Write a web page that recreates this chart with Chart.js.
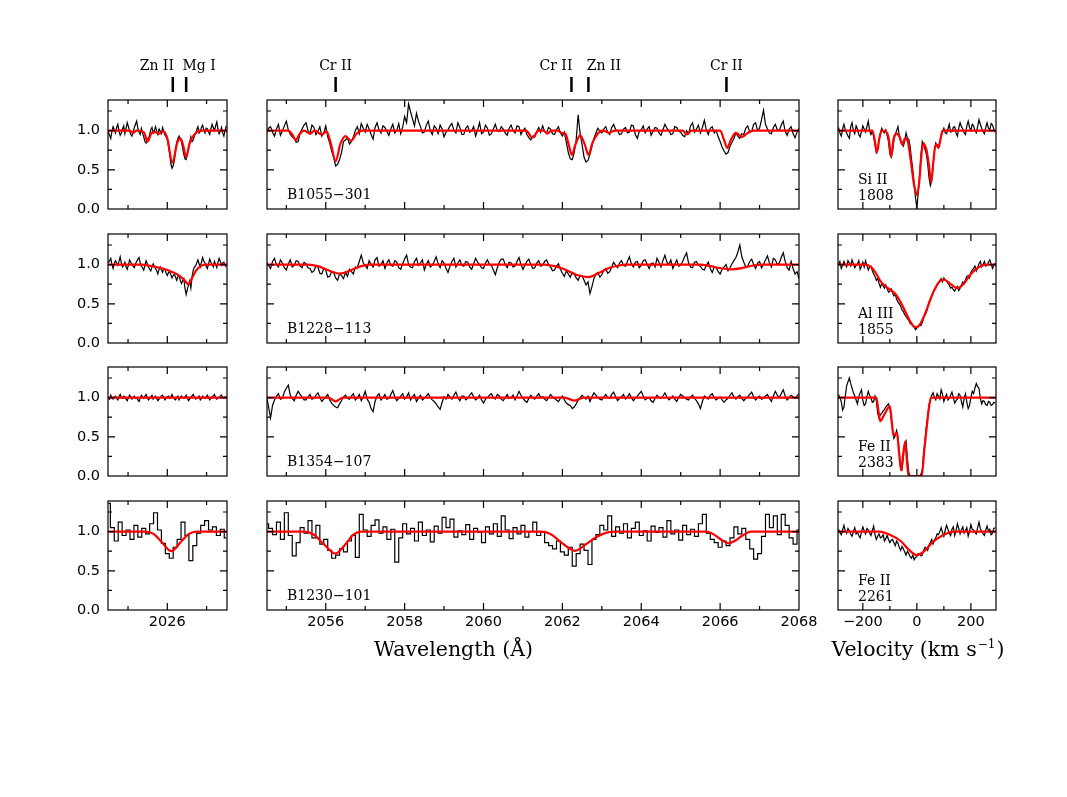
<!DOCTYPE html>
<html>
<head>
<meta charset="utf-8">
<script src="https://cdn.jsdelivr.net/npm/chart.js@4.4.1/dist/chart.umd.min.js"></script>
<style>
html,body{margin:0;background:#fff;}
#fig{position:relative;width:1067px;height:797px;overflow:hidden;background:#fff;}
#fig canvas{position:absolute;}
</style>
</head>
<body>
<div id="fig"></div>
<script>
// sampling of the observed spectra (start + step per pixel bin)
const leftStart = 2024.5, leftStep = [0.03, 0.03, 0.03, 0.1];
const midStart = 2054.5, midStep = [0.05, 0.05, 0.05, 0.1];
const velStart = -290, velStep = 5;

// tick values
const waveMajor = [[2026], [2056, 2058, 2060, 2062, 2064, 2066, 2068], [-200, 0, 200]];
const waveMinor = [[2025, 2027], [2055, 2057, 2059, 2061, 2063, 2065, 2067], [-100, 100]];
const fluxMajor = [0, 0.5, 1.0];
const fluxMinor = [0.25, 0.75, 1.25];

// labels
const qsoNames = ['B1055\u2212301', 'B1228\u2212113', 'B1354\u2212107', 'B1230\u2212101'];
const ionNames = ['Si II', 'Al III', 'Fe II', 'Fe II'];
const ionWaves = ['1808', '1855', '2383', '2261'];
const lineWaves = [[2026.14, 2026.48], [2056.25, 2062.23, 2062.66, 2066.16]];
const lineNames = [['Zn II', 'Mg I'], ['Cr II', 'Cr II', 'Zn II', 'Cr II']];
const labelShift = [[-16, 13], [0, -15.5, 15.5, 0]];

// ---- B1055-301 ----
const b1055Left = [0.98,0.94,0.90,0.99,1.05,1.01,0.97,1.04,1.08,1.00,0.94,0.97,1.02,1.06,0.96,1.03,1.10,1.05,0.99,0.95,
  0.93,0.98,1.04,1.08,1.12,1.03,0.98,0.95,1.03,0.97,0.92,0.86,0.84,0.90,0.88,0.95,1.01,1.04,0.97,1.00,
  1.05,0.99,0.95,1.02,0.99,0.96,1.04,0.99,0.94,0.92,0.90,0.80,0.70,0.58,0.52,0.55,0.62,0.74,0.85,0.90,
  0.93,0.89,0.86,0.78,0.70,0.64,0.63,0.70,0.78,0.85,0.92,0.86,0.88,0.93,0.96,1.01,1.05,0.97,0.99,1.04,
  1.07,1.01,0.97,1.03,1.02,0.98,0.95,1.02,1.08,1.04,1.00,1.06,1.11,1.02,0.96,0.99,1.04,0.97,0.93,1.00,1.06];
const b1055LeftFit = [[2024.5,1],[2025.05,1],[2025.13,0.97],[2025.21,1],[2025.4,0.98],[2025.5,0.86],[2025.6,0.97],
  [2025.7,0.98],[2025.8,0.96],[2025.9,0.99],[2026.0,0.9],[2026.13,0.59],[2026.25,0.84],[2026.33,0.9],[2026.4,0.82],
  [2026.48,0.66],[2026.57,0.84],[2026.66,0.93],[2026.84,1],[2027.52,1]];
const b1055Mid = [0.97,1.03,1.05,0.98,0.93,1.02,1.08,0.94,0.99,1.06,1.12,1.01,0.95,0.92,0.90,0.85,0.86,0.97,1.02,1.07,
  1.10,1.00,0.96,1.07,1.04,0.95,0.99,1.05,0.93,0.97,1.06,0.92,0.84,0.74,0.66,0.55,0.57,0.63,0.72,0.86,
  0.88,0.91,0.83,0.86,0.92,1.00,1.05,0.96,1.09,1.03,0.98,1.08,1.02,0.95,0.89,1.04,1.10,1.01,0.97,1.06,
  1.04,0.99,0.94,1.02,1.08,0.97,1.00,1.09,0.96,1.04,1.18,1.10,1.34,1.24,1.15,1.06,1.22,1.12,1.05,0.97,
  0.98,1.07,1.12,1.00,0.95,1.06,1.03,0.96,1.07,1.02,0.92,0.98,1.01,1.06,1.09,1.00,0.97,1.10,1.04,0.95,
  0.95,1.03,1.06,0.98,1.00,1.05,0.93,1.01,1.10,0.96,0.98,1.07,1.03,0.94,0.96,1.02,1.08,1.00,0.99,1.05,
  1.02,0.97,0.94,1.03,1.07,1.00,0.97,1.06,1.05,0.95,1.00,1.03,0.95,0.91,0.88,0.93,0.92,0.99,1.04,0.98,
  1.06,0.99,0.97,1.04,1.02,0.96,0.95,1.01,1.05,0.97,0.93,0.98,0.85,0.72,0.64,0.63,0.72,0.88,1.20,0.96,
  0.82,0.66,0.60,0.62,0.70,0.80,0.90,0.97,1.03,0.99,0.97,1.02,1.05,0.98,0.95,1.04,1.08,1.01,1.00,0.95,
  0.96,1.02,1.04,0.97,0.98,1.07,1.06,0.95,0.90,0.99,1.01,1.06,0.97,1.02,1.05,0.94,0.99,1.04,1.03,0.97,
  0.94,1.01,1.08,1.03,1.00,0.95,0.96,1.05,1.04,0.99,0.98,0.94,0.92,1.00,0.96,1.06,1.10,0.98,1.02,1.07,
  0.97,1.04,1.13,1.01,0.95,1.03,1.05,0.97,1.00,0.92,0.86,0.79,0.74,0.70,0.72,0.80,0.85,0.90,0.97,0.93,
  0.90,0.96,0.95,1.03,1.06,0.98,0.99,1.08,1.10,1.00,1.03,1.14,1.26,1.08,1.02,0.97,0.96,1.04,1.08,1.01,
  1.00,1.07,1.12,0.99,0.94,1.02,1.05,0.96,0.91,0.98,1.03];
const b1055MidFit = [[2054.5,1],[2055.05,1],[2055.15,0.95],[2055.24,0.88],[2055.33,0.95],[2055.45,1],[2055.6,0.96],
  [2055.72,1],[2055.9,0.95],[2056.02,0.99],[2056.13,0.83],[2056.25,0.61],[2056.37,0.83],[2056.5,0.93],[2056.64,0.87],
  [2056.78,0.96],[2056.92,1],[2061.08,1],[2061.24,0.91],[2061.4,1],[2061.52,1],[2061.62,0.96],[2061.72,1],[2061.88,1],
  [2061.98,0.97],[2062.08,0.96],[2062.16,0.82],[2062.24,0.69],[2062.33,0.82],[2062.45,0.94],[2062.57,0.82],[2062.66,0.69],
  [2062.76,0.84],[2062.88,0.95],[2063.0,1],[2063.1,0.99],[2063.18,0.97],[2063.26,0.99],[2063.35,1],[2065.05,1],
  [2065.16,0.95],[2065.27,1],[2066.0,1],[2066.1,0.88],[2066.18,0.78],[2066.27,0.88],[2066.4,0.97],[2066.56,0.92],
  [2066.7,0.97],[2066.85,1],[2068.0,1]];
const b1055Vel = [1.04,0.97,0.93,1.02,1.08,1.01,0.97,0.93,0.90,1.05,1.10,1.00,0.96,1.06,1.02,0.95,0.92,0.99,1.06,1.02,
  0.98,1.05,1.12,1.00,0.95,0.99,0.93,0.82,0.72,0.76,0.88,0.97,1.03,0.99,0.97,1.01,0.94,0.86,0.70,0.66,
  0.74,0.88,0.95,1.00,1.05,0.93,0.86,0.82,0.80,0.87,0.97,0.90,0.89,0.80,0.64,0.50,0.32,0.14,0.02,0.20,
  0.42,0.68,0.86,0.82,0.76,0.70,0.58,0.40,0.30,0.36,0.55,0.74,0.84,0.80,0.78,0.86,0.93,0.98,1.03,0.97,
  0.96,1.02,1.08,0.98,0.99,1.04,1.05,0.97,0.93,1.03,1.10,1.05,1.02,0.97,0.95,1.06,1.12,1.04,1.00,1.08,
  1.06,1.00,0.97,1.05,1.14,1.08,1.03,0.99,0.96,1.04,1.10,1.03,1.01,1.09,1.07,1.02,0.98];
const b1055VelFit = [[-292,1],[-165,1],[-157,0.9],[-148,0.72],[-139,0.9],[-130,1],[-115,0.99],[-104,0.9],[-95,0.67],
  [-86,0.9],[-75,0.96],[-64,0.92],[-53,0.82],[-44,0.9],[-35,0.88],[-22,0.6],[-10,0.3],[0,0.18],[9,0.35],[17,0.7],
  [24,0.84],[31,0.8],[37,0.73],[45,0.55],[53,0.34],[61,0.6],[68,0.8],[74,0.82],[80,0.78],[87,0.88],[95,1],[293,1]];

// ---- B1228-113 ----
const b1228Left = [1.02,1.05,1.08,1.00,0.95,1.01,1.05,1.02,0.99,1.04,1.10,1.02,0.97,0.99,1.03,0.97,0.94,1.00,1.06,1.03,
  1.00,0.98,0.96,1.01,1.04,1.07,1.09,1.02,0.98,0.96,0.93,0.99,1.05,1.01,0.97,0.94,0.92,0.97,1.01,0.98,
  0.95,0.92,0.88,0.94,0.97,0.93,0.90,0.95,0.94,0.89,0.86,0.90,0.91,0.87,0.83,0.86,0.88,0.84,0.80,0.85,
  0.86,0.80,0.76,0.79,0.82,0.70,0.62,0.68,0.74,0.79,0.70,0.84,0.93,0.97,0.98,1.02,1.06,1.01,0.97,1.03,
  1.09,1.04,1.02,0.98,0.95,1.01,1.07,1.03,1.00,0.97,1.04,1.00,0.96,1.03,1.08,1.04,0.99,1.02,1.03,0.99,0.97];
const b1228LeftFit = [[2024.5,1],[2025.35,1],[2025.6,0.98],[2025.8,0.96],[2026.0,0.93],[2026.15,0.9],[2026.3,0.86],
  [2026.42,0.81],[2026.54,0.75],[2026.64,0.84],[2026.74,0.93],[2026.85,0.98],[2026.97,1],[2027.52,1]];
const b1228Mid = [1.03,0.99,0.95,1.04,1.08,1.00,0.97,1.06,1.02,0.96,0.93,1.01,1.06,0.97,0.99,1.05,1.04,0.98,0.96,1.03,
  1.01,0.96,0.95,0.90,0.92,0.98,0.97,0.89,0.88,0.95,0.93,0.84,0.85,0.91,0.90,0.83,0.80,0.88,0.86,0.82,
  0.90,0.85,0.94,0.91,0.88,0.97,0.96,1.04,1.12,1.02,0.99,0.95,1.05,1.00,0.97,1.06,1.09,0.98,1.00,1.05,
  0.95,1.02,1.06,0.99,0.98,1.05,1.03,0.96,0.94,1.01,1.07,1.12,1.00,0.97,0.96,1.04,1.08,0.99,1.02,1.06,
  0.93,1.00,1.05,0.97,0.99,1.04,1.10,1.01,0.96,1.05,1.02,0.95,0.90,0.98,1.04,1.08,0.97,1.02,1.06,0.99,
  0.98,1.04,1.03,0.97,0.94,1.01,1.08,1.03,1.00,0.96,0.95,1.02,1.06,1.00,0.99,0.93,0.87,0.96,1.03,1.07,
  1.07,1.00,0.96,1.03,1.02,0.97,0.98,1.04,1.09,1.00,0.94,0.99,1.04,1.07,1.00,0.95,0.96,1.02,1.05,0.98,
  0.99,1.04,1.06,1.00,0.97,0.92,0.93,0.98,1.01,0.94,0.89,0.85,0.92,0.88,0.84,0.90,0.88,0.83,0.80,0.86,
  0.86,0.80,0.74,0.78,0.63,0.72,0.82,0.88,0.90,0.84,0.87,0.93,0.95,0.89,0.91,0.97,1.03,0.99,0.96,1.02,
  1.05,0.99,0.98,1.04,1.10,1.01,0.97,1.03,1.04,0.96,0.99,1.05,1.06,1.00,0.95,1.01,1.02,0.97,1.08,1.03,
  0.97,1.05,1.12,1.03,1.00,1.06,0.95,1.00,1.06,0.98,0.99,1.04,1.10,1.15,1.02,0.97,0.96,1.03,1.04,0.99,
  0.98,0.94,0.93,0.99,1.03,0.95,0.90,0.97,0.96,0.91,0.88,0.94,0.97,1.00,0.92,0.96,1.01,1.05,1.09,1.16,
  1.25,1.10,1.03,0.97,0.98,1.04,1.07,1.00,0.95,1.02,1.04,0.96,1.00,1.06,1.11,1.02,0.97,1.08,1.06,1.00,
  1.02,1.09,1.15,1.04,0.96,0.93,1.04,0.95,0.88,0.91,0.82];
const b1228MidFit = [[2054.5,1],[2055.55,1],[2055.8,0.98],[2056.05,0.93],[2056.36,0.885],[2056.65,0.93],[2056.9,0.98],
  [2057.1,1],[2061.55,1],[2061.8,0.98],[2062.05,0.94],[2062.35,0.87],[2062.66,0.84],[2062.95,0.9],[2063.2,0.96],
  [2063.45,0.99],[2063.6,1],[2065.5,1],[2065.75,0.98],[2066.0,0.955],[2066.28,0.94],[2066.55,0.955],[2066.8,0.985],
  [2067.05,1],[2068,1]];
const b1228Vel = [1.00,1.04,0.95,0.99,1.04,1.00,0.97,1.05,1.02,0.98,1.06,1.01,0.96,0.99,1.01,1.05,0.94,0.98,1.03,0.97,
  1.05,0.99,0.93,0.97,0.98,0.92,0.88,0.85,0.80,0.82,0.76,0.71,0.76,0.73,0.70,0.74,0.69,0.65,0.66,0.69,
  0.64,0.60,0.62,0.56,0.52,0.50,0.47,0.42,0.40,0.36,0.34,0.31,0.29,0.25,0.24,0.22,0.20,0.17,0.19,0.21,
  0.23,0.22,0.26,0.32,0.36,0.39,0.45,0.52,0.55,0.60,0.64,0.69,0.70,0.74,0.76,0.80,0.82,0.78,0.83,0.80,
  0.79,0.76,0.74,0.70,0.71,0.68,0.66,0.70,0.72,0.67,0.70,0.74,0.78,0.76,0.81,0.85,0.86,0.83,0.90,0.93,
  0.95,0.98,0.92,0.96,1.01,1.04,0.97,1.00,1.04,0.98,0.99,1.03,1.06,1.01,0.95,0.99,1.02];
const b1228VelFit = [[-292,1],[-190,1],[-170,0.97],[-150,0.88],[-135,0.79],[-115,0.72],[-95,0.67],[-80,0.63],[-60,0.52],
  [-40,0.38],[-20,0.25],[-5,0.2],[10,0.23],[30,0.37],[55,0.6],[80,0.77],[100,0.81],[125,0.75],[150,0.7],[175,0.76],
  [200,0.88],[230,0.97],[260,1],[293,1]];

// ---- B1354-107 ----
const b1354Left = [1.00,0.98,1.03,1.00,0.98,1.01,1.02,0.99,0.97,1.01,1.04,1.00,0.99,1.02,1.01,0.98,0.96,1.00,1.03,1.01,
  0.98,1.00,1.02,0.99,1.00,0.97,0.95,0.99,1.03,1.01,0.99,1.02,1.04,1.00,0.97,0.99,1.01,1.03,0.98,1.00,
  1.02,0.99,0.96,0.98,1.00,1.02,1.03,1.00,0.97,0.99,1.01,1.02,0.99,1.01,1.04,1.00,0.98,0.97,1.00,1.02,
  0.97,1.00,1.02,1.00,0.99,1.01,1.03,0.99,0.96,0.98,1.01,1.02,1.04,1.01,0.98,0.99,1.00,1.02,0.97,0.99,
  1.02,1.00,0.99,1.01,1.03,1.00,0.97,0.99,1.01,1.02,1.04,1.00,0.98,0.99,1.00,1.02,1.03,1.00,0.99,1.01,1.01];
const b1354LeftFit = [[2024.5,1],[2027.52,1]];
const b1354Mid = [1.02,0.88,0.74,0.90,0.97,1.02,1.05,0.98,0.99,1.07,1.12,1.16,1.03,0.99,0.96,1.03,1.08,1.04,1.01,0.97,
  0.97,1.01,1.04,0.98,0.99,1.03,1.06,1.00,0.95,0.98,1.01,1.04,0.97,0.93,0.90,0.88,0.87,0.92,0.96,1.01,
  1.03,0.99,0.98,1.02,1.05,0.97,1.00,1.04,0.96,1.01,1.08,0.98,0.94,0.86,0.82,0.95,1.02,1.05,0.97,1.00,
  1.04,0.98,0.99,1.04,1.09,1.01,0.96,0.99,1.02,1.05,0.98,1.01,1.06,0.97,1.01,1.04,0.95,0.99,1.03,0.97,
  0.99,1.02,1.05,1.00,0.97,0.95,0.92,0.88,0.85,0.94,1.01,0.98,1.04,1.01,0.98,1.03,1.07,1.00,0.96,1.02,
  1.02,0.97,0.99,1.03,1.06,1.01,0.97,0.99,1.03,0.97,0.93,0.98,1.00,1.03,1.05,1.00,0.98,1.04,1.02,0.98,
  0.96,1.00,1.04,0.99,1.00,1.03,0.97,1.02,1.08,1.03,0.99,0.96,0.94,0.99,1.03,1.00,0.98,1.02,1.05,1.00,
  1.01,0.98,0.96,1.00,1.04,1.01,0.99,0.97,0.95,0.99,1.02,0.97,0.93,0.91,0.90,0.86,0.88,0.92,0.97,1.00,
  1.03,1.00,0.98,1.02,0.95,1.01,1.06,1.03,1.00,0.98,0.97,1.01,1.04,1.00,0.99,1.04,1.07,1.01,0.96,0.99,
  1.01,1.04,0.98,1.01,1.05,1.00,0.96,0.99,1.02,1.05,1.08,1.02,0.97,0.99,1.00,0.96,0.94,0.99,1.03,1.00,
  0.99,1.02,1.06,1.01,0.97,0.99,1.02,0.98,0.95,1.00,1.04,1.02,1.00,0.98,0.97,1.01,1.03,0.99,0.96,0.92,
  0.86,0.95,1.02,1.00,0.98,1.03,1.05,1.00,0.97,0.99,1.01,0.97,0.94,0.97,0.99,1.03,1.06,1.01,0.98,1.01,
  1.03,0.99,0.96,0.99,1.01,1.04,1.07,1.01,0.97,1.00,1.02,0.98,0.99,1.02,1.04,0.99,0.95,1.02,1.08,1.03,
  1.00,1.05,1.10,1.02,0.97,1.00,1.03,1.01,0.99,1.02,1.05];
const b1354MidFit = [[2054.5,1],[2056.05,1],[2056.15,0.98],[2056.25,0.95],[2056.35,0.98],[2056.45,1],[2062.05,1],
  [2062.18,0.98],[2062.3,0.96],[2062.42,0.98],[2062.55,1],[2068,1]];
const b1354Vel = [1.04,1.00,0.95,0.84,0.88,1.02,1.15,1.20,1.25,1.18,1.12,1.06,1.02,0.97,0.92,1.01,1.06,1.10,0.96,0.90,
  0.92,1.01,1.08,1.03,1.00,0.94,0.95,1.02,0.96,0.80,0.74,0.78,0.80,0.83,0.85,0.88,0.90,0.92,0.88,0.72,
  0.60,0.48,0.52,0.58,0.50,0.30,0.10,0.08,0.25,0.42,0.45,0.22,0.05,0.00,0.00,0.00,0.00,0.00,0.00,0.00,
  0.00,0.02,0.08,0.28,0.45,0.62,0.75,0.90,0.98,1.03,1.06,1.00,0.97,1.05,1.02,0.98,1.10,1.04,0.95,1.00,
  1.04,0.97,0.99,1.03,1.07,1.00,0.93,0.96,0.98,1.05,1.03,0.95,0.88,0.99,1.05,0.94,0.86,0.90,1.00,1.08,
  1.05,1.12,1.18,1.14,1.12,0.99,0.92,0.96,0.95,0.91,0.90,0.95,0.94,0.90,0.91,0.94,0.93];
const b1354VelFit = [[-292,1],[-150,1],[-143,0.85],[-136,0.7],[-118,0.8],[-100,0.89],[-93,0.7],[-87,0.52],[-74,0.55],
  [-66,0.3],[-58,0.07],[-50,0.3],[-43,0.44],[-37,0.2],[-31,0],[18,0],[28,0.35],[37,0.64],[45,0.88],[53,1],[293,1]];

// ---- B1230-101 ----
const b1230Left = [1.36,1.05,0.88,1.12,0.95,1.02,0.90,1.08,0.93,1.04,
  0.97,1.10,1.24,1.02,0.85,0.72,0.66,0.80,0.90,1.12,
  0.95,0.63,0.82,0.98,1.08,1.14,1.02,1.06,0.95,1.03,0.92];
const b1230LeftFit = [[2024.5,1],[2025.45,1],[2025.65,0.97],[2025.85,0.87],[2026.1,0.75],[2026.35,0.87],[2026.55,0.97],
  [2026.75,1],[2027.52,1]];
const b1230Mid = [1.10,1.04,0.96,1.12,0.90,1.24,0.95,0.69,0.86,1.05,
  0.98,1.14,0.92,1.08,0.84,0.90,0.76,0.66,0.70,0.78,
  0.74,0.88,0.95,0.67,1.22,1.02,0.94,1.08,1.15,0.98,
  1.06,0.90,1.03,0.61,0.92,1.10,0.97,1.04,0.88,1.12,
  0.95,1.02,0.87,1.07,0.98,1.18,1.05,1.16,0.93,1.01,
  0.96,1.09,0.90,1.04,0.99,0.86,1.06,0.97,1.10,0.94,
  1.20,1.02,0.91,1.05,0.97,1.08,0.93,1.00,1.12,0.95,
  0.99,0.86,0.82,0.78,0.88,0.74,0.70,0.80,0.56,0.72,
  0.84,0.76,0.58,0.90,0.96,1.08,1.02,1.20,0.94,1.06,
  0.98,1.10,0.92,1.04,1.12,0.95,1.01,0.88,1.07,0.99,
  1.05,0.93,1.14,0.97,1.02,0.89,1.08,0.96,1.03,0.94,
  1.10,1.22,0.98,0.90,0.86,0.80,0.88,0.82,0.92,1.06,
  0.97,1.04,0.90,0.78,0.65,0.72,0.94,1.22,1.05,1.20,
  0.96,1.22,1.08,0.92,0.84,1.02];
const b1230MidFit = [[2054.5,1],[2055.45,1],[2055.7,0.96],[2055.95,0.84],[2056.25,0.72],[2056.5,0.84],[2056.7,0.96],
  [2056.9,1],[2061.45,1],[2061.7,0.97],[2061.95,0.87],[2062.32,0.755],[2062.6,0.84],[2062.9,0.94],[2063.15,0.99],
  [2063.35,1],[2065.65,1],[2065.85,0.96],[2066.05,0.89],[2066.22,0.85],[2066.4,0.89],[2066.6,0.96],[2066.78,1],[2068,1]];
const b1230Vel = [1.03,0.99,0.96,1.02,1.08,1.01,0.98,1.04,1.01,0.97,0.94,1.00,1.05,0.97,0.99,0.95,0.92,1.00,1.06,1.01,
  0.97,1.04,1.02,0.98,0.95,1.01,1.07,0.96,0.90,0.94,0.97,0.92,0.93,0.96,0.88,0.91,0.95,0.90,0.86,0.89,
  0.90,0.86,0.82,0.88,0.85,0.80,0.76,0.81,0.78,0.74,0.70,0.75,0.72,0.68,0.66,0.70,0.64,0.67,0.68,0.72,
  0.72,0.69,0.70,0.76,0.80,0.78,0.76,0.83,0.86,0.90,0.84,0.89,0.92,0.97,0.96,1.00,1.05,0.99,0.94,1.02,
  1.08,1.03,0.98,0.95,1.03,1.06,0.95,1.01,1.10,1.04,0.97,1.02,1.06,0.98,1.01,1.05,0.94,1.00,1.09,1.03,
  1.02,0.99,0.97,1.05,1.12,1.04,1.00,0.97,0.95,1.02,1.07,1.01,1.03,0.96,0.98,1.04,1.05];
const b1230VelFit = [[-292,1],[-140,1],[-100,0.96],[-60,0.88],[-30,0.77],[0,0.7],[30,0.76],[60,0.87],[100,0.96],
  [135,1],[293,1]];

// tables built from the arrays above
const obsFlux = [[b1055Left, b1055Mid, b1055Vel], [b1228Left, b1228Mid, b1228Vel],
  [b1354Left, b1354Mid, b1354Vel], [b1230Left, b1230Mid, b1230Vel]];
const fitFlux = [[b1055LeftFit, b1055MidFit, b1055VelFit], [b1228LeftFit, b1228MidFit, b1228VelFit],
  [b1354LeftFit, b1354MidFit, b1354VelFit], [b1230LeftFit, b1230MidFit, b1230VelFit]];

// layout (px)
const colX = [108, 267, 838], colW = [119, 532, 158];
const rowY = [100, 234, 367, 501], rowH = 109;
const xRange = [[2024.49, 2027.52], [2054.51, 2068.0], [-292, 293]];
const fig = document.getElementById('fig');

function makeFrame(row, col) {
  return {
    id: 'frame' + row + col,
    afterDraw(chart) {
      const { ctx, chartArea: a, scales: { x, y } } = chart;
      ctx.save();
      ctx.strokeStyle = '#000';
      ctx.lineWidth = 1.2;
      ctx.strokeRect(a.left, a.top, a.right - a.left, a.bottom - a.top);
      ctx.beginPath();
      const xt = (vals, len) => vals.forEach(v => {
        const p = x.getPixelForValue(v);
        if (p <= a.left + 0.5 || p >= a.right - 0.5) return;
        ctx.moveTo(p, a.bottom); ctx.lineTo(p, a.bottom - len);
        ctx.moveTo(p, a.top); ctx.lineTo(p, a.top + len);
      });
      const yt = (vals, len) => vals.forEach(v => {
        const p = y.getPixelForValue(v);
        if (p >= a.bottom - 0.5 || p <= a.top + 0.5) return;
        ctx.moveTo(a.left, p); ctx.lineTo(a.left + len, p);
        ctx.moveTo(a.right, p); ctx.lineTo(a.right - len, p);
      });
      xt(waveMajor[col], 7); xt(waveMinor[col], 4);
      yt(fluxMajor, 7); yt(fluxMinor, 4);
      ctx.stroke();

      ctx.fillStyle = '#000';
      ctx.font = '14px "DejaVu Serif"';
      ctx.textAlign = 'left';
      ctx.textBaseline = 'alphabetic';
      if (col === 1) ctx.fillText(qsoNames[row], a.left + 20, a.bottom - 10);
      if (col === 2) {
        ctx.fillText(ionNames[row], a.left + 20, a.bottom - 25.5);
        ctx.fillText(ionWaves[row], a.left + 20, a.bottom - 9.5);
      }
      // transition markers above the top row
      if (row === 0 && col < 2) {
        ctx.textAlign = 'center';
        ctx.lineWidth = 2.5;
        ctx.beginPath();
        lineWaves[col].forEach((w, i) => {
          const p = x.getPixelForValue(w);
          ctx.moveTo(p, a.top - 23); ctx.lineTo(p, a.top - 8);
          ctx.fillText(lineNames[col][i], p + labelShift[col][i], a.top - 30);
        });
        ctx.stroke();
      }
      // axis titles under the bottom row
      if (row === 3 && col === 1) {
        ctx.font = '20.5px "DejaVu Serif"';
        ctx.textAlign = 'center';
        const cx = a.left + ((colX[0] + colX[1] + colW[1]) / 2 - colX[1]);
        ctx.fillText('Wavelength (\u00c5)', cx, a.bottom + 46);
      }
      if (row === 3 && col === 2) {
        const main = 'Velocity (km s', sup = '\u22121', close = ')';
        ctx.font = '20.5px "DejaVu Serif"';
        const w1 = ctx.measureText(main).width, w3 = ctx.measureText(close).width;
        ctx.font = '12px "DejaVu Serif"';
        const w2 = ctx.measureText(sup).width;
        const sx = (a.left + a.right) / 2 - (w1 + w2 + w3) / 2;
        const by = a.bottom + 46;
        ctx.font = '20.5px "DejaVu Serif"';
        ctx.fillText(main, sx, by);
        ctx.font = '12px "DejaVu Serif"';
        ctx.fillText(sup, sx + w1 + 1, by - 8);
        ctx.font = '20.5px "DejaVu Serif"';
        ctx.fillText(close, sx + w1 + w2 + 2, by);
      }
      ctx.restore();
    }
  };
}

function noOverflow(s) {
  s.paddingLeft = 0; s.paddingRight = 0; s.paddingTop = 0; s.paddingBottom = 0;
}

function panel(row, col) {
  const padT = row === 0 ? 50 : 5, padL = 50, padR = 20, padB = 60;
  const w = colW[col] + padL + padR, h = rowH + padT + padB;
  const c = document.createElement('canvas');
  c.width = w; c.height = h;
  c.style.left = (colX[col] - padL) + 'px';
  c.style.top = (rowY[row] - padT) + 'px';
  c.style.width = w + 'px'; c.style.height = h + 'px';
  fig.appendChild(c);

  const start = col === 0 ? leftStart : col === 1 ? midStart : velStart;
  const step = col === 0 ? leftStep[row] : col === 1 ? midStep[row] : velStep;
  const obs = obsFlux[row][col].map((f, i) => ({ x: start + step * i, y: f }));
  const fit = fitFlux[row][col].map(p => ({ x: p[0], y: p[1] }));
  const tickFont = { family: 'DejaVu Sans', size: 14.5 };

  new Chart(c, {
    type: 'line',
    data: {
      datasets: [
        { data: fit, borderColor: '#ff0000', borderWidth: 2.2, pointRadius: 0, cubicInterpolationMode: 'monotone' },
        { data: obs, borderColor: '#000', borderWidth: 1.2, pointRadius: 0, tension: 0,
          stepped: row === 3 && col < 2 ? 'middle' : false }
      ]
    },
    options: {
      responsive: false, animation: false, events: [], devicePixelRatio: 1,
      layout: { padding: { top: padT, right: padR, left: 0, bottom: 0 } },
      plugins: { legend: { display: false }, tooltip: { enabled: false } },
      scales: {
        x: {
          type: 'linear', min: xRange[col][0], max: xRange[col][1],
          grid: { display: false, drawTicks: false }, border: { display: false },
          afterFit: s => { s.height = padB; noOverflow(s); },
          afterBuildTicks: s => { s.ticks = waveMajor[col].map(v => ({ value: v })); },
          ticks: { display: row === 3, padding: 4, font: tickFont, color: '#000', maxRotation: 0, autoSkip: false,
            callback: v => String(v).replace('-', '\u2212') }
        },
        y: {
          type: 'linear', min: 0, max: 1.39,
          grid: { display: false, drawTicks: false }, border: { display: false },
          afterFit: s => { s.width = padL; noOverflow(s); },
          afterBuildTicks: s => { s.ticks = fluxMajor.map(v => ({ value: v })); },
          ticks: { display: col === 0, padding: 8, font: tickFont, color: '#000', callback: v => v.toFixed(1) }
        }
      }
    },
    plugins: [makeFrame(row, col)]
  });
}

for (let r = 0; r < 4; r++) for (let c = 0; c < 3; c++) panel(r, c);
</script>
</body>
</html>
